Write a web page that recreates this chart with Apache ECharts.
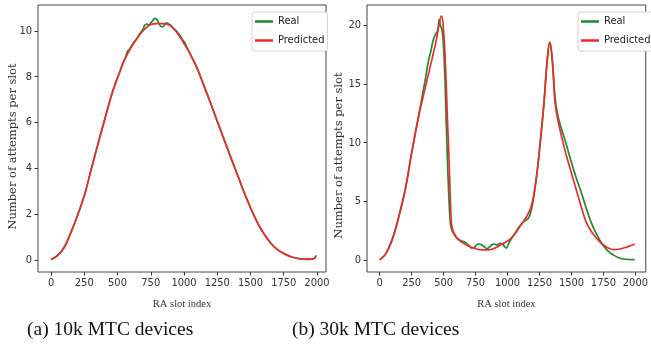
<!DOCTYPE html>
<html>
<head>
<meta charset="utf-8">
<script src="https://cdn.jsdelivr.net/npm/echarts@6/dist/echarts.min.js"></script>
<style>
  html, body { margin: 0; padding: 0; background: #fff; }
  #chart { width: 651px; height: 354px; }
</style>
</head>
<body>
<div id="chart"></div>
<script>
// (a) 10k MTC devices
const leftPredX = [0, 50, 100, 150, 200, 250, 300, 350, 400, 450, 500, 550, 600, 650, 700, 750, 800, 850, 900, 950,
  1000, 1050, 1100, 1150, 1200, 1250, 1300, 1350, 1400, 1450, 1500, 1550, 1600, 1650, 1700, 1750, 1800, 1850, 1900, 1950, 1995];
const leftPredY = [0.02, 0.2, 0.55, 1.2, 1.95, 2.8, 3.9, 5.0, 6.05, 7.1, 7.95, 8.7, 9.25, 9.7, 10.05, 10.28, 10.32, 10.32, 10.22, 9.9,
  9.45, 8.95, 8.35, 7.6, 6.85, 6.05, 5.28, 4.5, 3.75, 2.98, 2.28, 1.65, 1.15, 0.75, 0.46, 0.28, 0.15, 0.07, 0.03, 0.03, 0.1];

const leftRealX = [0, 50, 100, 150, 200, 250, 300, 350, 400, 450, 480, 500, 520, 540, 560, 575, 590, 610, 630, 650,
  670, 690, 705, 720, 735, 750, 765, 780, 795, 810, 825, 840, 855, 870, 885, 900, 915, 930, 950, 970,
  990, 1005, 1020, 1050, 1100, 1150, 1200, 1250, 1300, 1350, 1400, 1450, 1500, 1550, 1600, 1650, 1700, 1750, 1800, 1850,
  1900, 1950, 1975, 1995];
const leftRealY = [0.02, 0.2, 0.55, 1.2, 1.95, 2.8, 3.9, 5.0, 6.05, 7.1, 7.65, 7.95, 8.25, 8.6, 8.85, 9.1, 9.2, 9.4, 9.55, 9.7,
  9.9, 10.05, 10.25, 10.3, 10.25, 10.35, 10.45, 10.55, 10.5, 10.35, 10.2, 10.18, 10.28, 10.35, 10.3, 10.25, 10.15, 10.05, 9.95, 9.8,
  9.6, 9.5, 9.3, 8.95, 8.35, 7.6, 6.85, 6.05, 5.28, 4.5, 3.75, 2.98, 2.28, 1.65, 1.15, 0.75, 0.46, 0.28, 0.15, 0.07,
  0.03, 0.02, 0.05, 0.2];

// (b) 30k MTC devices
const rightPredX = [0, 50, 100, 150, 200, 250, 300, 350, 400, 440, 470, 485, 500, 515, 530, 545, 555, 565, 600, 650,
  700, 750, 800, 850, 900, 950, 1000, 1050, 1100, 1150, 1180, 1200, 1230, 1260, 1285, 1310, 1330, 1348, 1372, 1400,
  1430, 1460, 1500, 1540, 1580, 1612, 1650, 1700, 1740, 1780, 1830, 1870, 1920, 1960, 1995];
const rightPredY = [0, 0.55, 1.8, 3.7, 6.0, 9.1, 12.0, 14.4, 16.7, 18.6, 20.4, 20.8, 19.5, 16.5, 12.0, 7.8, 4.5, 2.8, 1.9, 1.45,
  1.15, 0.95, 0.85, 0.85, 1.0, 1.3, 1.6, 2.1, 2.9, 3.7, 4.4, 5.2, 7.4, 10.5, 13.4, 17.0, 18.6, 17.4, 13.4, 11.6,
  10.2, 8.9, 7.4, 5.9, 4.4, 3.3, 2.5, 1.8, 1.35, 1.05, 0.87, 0.9, 1.05, 1.2, 1.35];

const rightRealX = [0, 50, 100, 150, 200, 250, 300, 330, 360, 380, 400, 420, 440, 455, 465, 475, 490, 505, 520, 535,
  550, 560, 580, 610, 640, 660, 680, 700, 720, 740, 760, 780, 800, 820, 840, 860, 880, 900, 920, 940,
  960, 975, 990, 1005, 1030, 1060, 1090, 1120, 1140, 1160, 1180, 1200, 1230, 1260, 1285, 1310, 1330, 1350, 1375, 1400,
  1450, 1500, 1540, 1575, 1650, 1700, 1740, 1780, 1830, 1875, 1920, 1995];
const rightRealY = [0, 0.55, 1.8, 3.7, 6.0, 9.1, 12.0, 13.8, 15.6, 16.9, 17.8, 18.8, 19.3, 19.6, 20.5, 20.0, 19.5, 17.0, 12.0, 7.0,
  3.5, 2.7, 2.2, 1.8, 1.6, 1.55, 1.4, 1.2, 1.0, 1.05, 1.3, 1.35, 1.25, 1.1, 0.95, 1.1, 1.3, 1.35, 1.25, 1.4,
  1.35, 1.15, 1.0, 1.3, 1.8, 2.3, 2.8, 3.2, 3.35, 3.5, 4.0, 5.0, 7.4, 10.5, 13.4, 17.0, 18.5, 17.0, 13.5, 12.0,
  10.2, 8.3, 6.9, 5.8, 3.3, 2.1, 1.35, 0.8, 0.4, 0.15, 0.05, 0.02];

const xTicks = [0, 250, 500, 750, 1000, 1250, 1500, 1750, 2000];
const leftYTicks = [0, 2, 4, 6, 8, 10];
const rightYTicks = [0, 5, 10, 15, 20];
const captions = ["(a) 10k MTC devices", "(b) 30k MTC devices"];
const seriesNames = ["Real", "Predicted"];

const GREEN = "#1f8a2e";
const RED = "#ee2a2a";
const TICK_FONT = "'DejaVu Sans Condensed', 'Liberation Sans Narrow', 'Liberation Sans', sans-serif";
const SERIF = "'Liberation Serif', 'DejaVu Serif', serif";

function zip(xs, ys) {
  const out = [];
  for (let i = 0; i < Math.min(xs.length, ys.length); i++) out.push([xs[i], ys[i]]);
  return out;
}

function xAxis(gridIndex, min, max) {
  return {
    type: "value",
    gridIndex,
    min,
    max,
    name: "RA slot index",
    nameLocation: "middle",
    nameGap: 27,
    nameMoveOverlap: false,
    nameTextStyle: { fontFamily: SERIF, fontSize: 10.5, color: "#333" },
    axisLine: { show: false, onZero: false },
    axisTick: { show: true, customValues: xTicks, length: 3.5, lineStyle: { color: "#333" } },
    axisLabel: {
      customValues: xTicks, formatter: (v) => String(v),
      fontFamily: TICK_FONT, fontSize: 11, color: "#333", margin: 6,
    },
    splitLine: { show: false },
  };
}

// shift pushes the rotated name down the page, as in the source figure
function yAxis(gridIndex, min, max, ticks, gap, shift) {
  return {
    type: "value",
    gridIndex,
    min,
    max,
    name: "Number of attempts per slot",
    nameLocation: "middle",
    nameGap: gap,
    nameMoveOverlap: false,
    nameTextStyle: { fontFamily: "'DejaVu Serif', serif", fontSize: 11.5, color: "#333", padding: [0, shift, 0, 0] },
    axisLine: { show: false, onZero: false },
    axisTick: { show: true, customValues: ticks, length: 3.5, lineStyle: { color: "#333" } },
    axisLabel: {
      customValues: ticks, formatter: (v) => String(v),
      fontFamily: TICK_FONT, fontSize: 11, color: "#333", margin: 6,
    },
    splitLine: { show: false },
  };
}

function lineSeries(name, color, idx, xs, ys) {
  return {
    type: "line",
    name,
    xAxisIndex: idx,
    yAxisIndex: idx,
    data: zip(xs, ys),
    showSymbol: false,
    smooth: 0.4,
    lineStyle: { color, width: 1.7 },
    itemStyle: { color },
  };
}

function legend(left) {
  return {
    data: seriesNames,
    orient: "vertical",
    left,
    top: 12,
    padding: [2, 3, 3, 3],
    itemGap: 4,
    itemWidth: 18,
    itemHeight: 2.5,
    icon: "rect",
    borderColor: "#d4d4d4",
    borderWidth: 1,
    borderRadius: 3,
    backgroundColor: "#fff",
    textStyle: { fontFamily: TICK_FONT, fontSize: 11, color: "#222", lineHeight: 15 },
  };
}

const chart = echarts.init(document.getElementById("chart"), null, { renderer: "canvas" });

chart.setOption({
  animation: false,
  backgroundColor: "#fff",
  grid: [
    { left: 38, top: 5, width: 288, height: 267, show: true, borderColor: "#444", borderWidth: 1 },
    { left: 367, top: 5, width: 286, height: 267, show: true, borderColor: "#444", borderWidth: 1 },
  ],
  xAxis: [xAxis(0, -98, 2068), xAxis(1, -99, 2081)],
  yAxis: [yAxis(0, -0.53, 11.13, leftYTicks, 19, 16), yAxis(1, -1.04, 21.75, rightYTicks, 22, 34)],
  legend: [legend(252), legend(578)],
  series: [
    lineSeries("Real", GREEN, 0, leftRealX, leftRealY),
    lineSeries("Predicted", RED, 0, leftPredX, leftPredY),
    lineSeries("Real", GREEN, 1, rightRealX, rightRealY),
    lineSeries("Predicted", RED, 1, rightPredX, rightPredY),
  ],
  graphic: [
    { type: "text", left: 27, top: 320, style: { text: captions[0], font: "19.5px " + SERIF, fill: "#111" } },
    { type: "text", left: 292, top: 320, style: { text: captions[1], font: "19.5px " + SERIF, fill: "#111" } },
  ],
});
</script>
</body>
</html>
